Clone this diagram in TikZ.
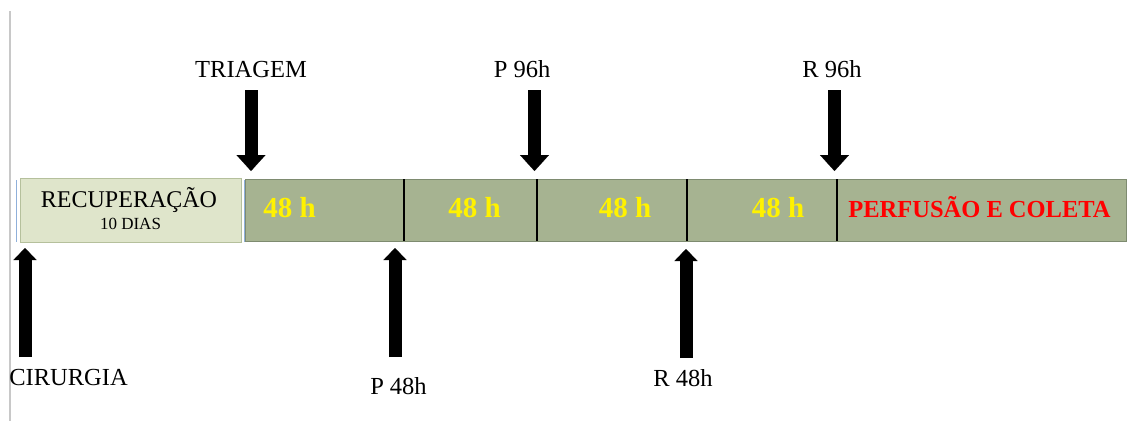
\documentclass[tikz,border=0pt]{standalone}
\usepackage{fontspec}
\setmainfont{Liberation Serif}
\usetikzlibrary{arrows.meta}
\definecolor{barfill}{HTML}{A6B391}
\definecolor{barborder}{HTML}{7E8B70}
\definecolor{recfill}{HTML}{DFE5CB}
\definecolor{recborder}{HTML}{B5C09C}
\definecolor{selblue}{HTML}{8FB0DA}
\definecolor{frame}{HTML}{C8C8C8}
\tikzset{
  label/.style={inner sep=0pt, anchor=base, font=\fontsize{24.5}{26}\selectfont},
  hours/.style={inner sep=0pt, anchor=base, text=yellow, font=\fontsize{29}{31}\selectfont\bfseries},
  downarrow/.style={line width=13pt, -{Triangle[length=16pt,width=29pt,line width=0.1pt]}},
  uparrow/.style={line width=13pt, -{Triangle[length=12pt,width=23pt,line width=0.1pt]}},
  divider/.style={line width=1.3pt, black},
}
\begin{document}
\begin{tikzpicture}[x=1pt,y=-1pt]
\useasboundingbox (0,0) rectangle (1128,421);
\fill[white] (0,0) rectangle (1128,421);
% page margin line
\draw[frame, line width=1.2pt] (10,11) -- (10,421);

% recovery block
\draw[selblue, line width=0.8pt] (16,180) -- (16,242);
\draw[selblue, line width=0.8pt] (244.5,180) -- (244.5,242);
\filldraw[fill=recfill, draw=recborder, line width=0.8pt] (20,178) rectangle (241,242);
\node[label, font=\fontsize{24}{26}\selectfont] (rec) at (129,207) {RECUPERAÇÃO};
\node[label, font=\fontsize{17}{19}\selectfont] (dias) at (130.5,229) {10 DIAS};

% timeline bar
\filldraw[fill=barfill, draw=barborder, line width=0.9pt] (245.5,179) rectangle (1126.5,241);
\draw[divider] (404,179) -- (404,241);
\draw[divider] (537,179) -- (537,241);
\draw[divider] (687,179) -- (687,241);
\draw[divider] (837,179) -- (837,241);
\node[hours] (h1) at (289.5,217) {48 h};
\node[hours] (h2) at (474.5,217) {48 h};
\node[hours] (h3) at (625,217) {48 h};
\node[hours] (h4) at (778,217) {48 h};
\node[inner sep=0pt, anchor=base, text=red, font=\fontsize{24.5}{26}\selectfont\bfseries] (perf) at (979.5,217) {PERFUSÃO E COLETA};

% events above the bar
\node[label] (triagem) at (251,77) {TRIAGEM};
\node[label] (p96) at (522,77) {P 96h};
\node[label] (r96) at (832,77) {R 96h};
\coordinate (t0) at (251,90);  \coordinate (t1) at (251,171);
\coordinate (p0) at (534.5,90); \coordinate (p1) at (534.5,171);
\coordinate (r0) at (834.5,90); \coordinate (r1) at (834.5,171);
\draw[downarrow] (t0) -- (t1);
\draw[downarrow] (p0) -- (p1);
\draw[downarrow] (r0) -- (r1);

% events below the bar
\node[label] (cir) at (68.5,385) {CIRURGIA};
\node[label] (p48) at (398.5,394) {P 48h};
\node[label] (r48) at (683,386) {R 48h};
\coordinate (c0) at (25,357);  \coordinate (c1) at (25,248);
\coordinate (q0) at (395,357); \coordinate (q1) at (395,248);
\coordinate (s0) at (686,358); \coordinate (s1) at (686,249);
\draw[uparrow] (c0) -- (c1);
\draw[uparrow] (q0) -- (q1);
\draw[uparrow] (s0) -- (s1);
\end{tikzpicture}
\end{document}
